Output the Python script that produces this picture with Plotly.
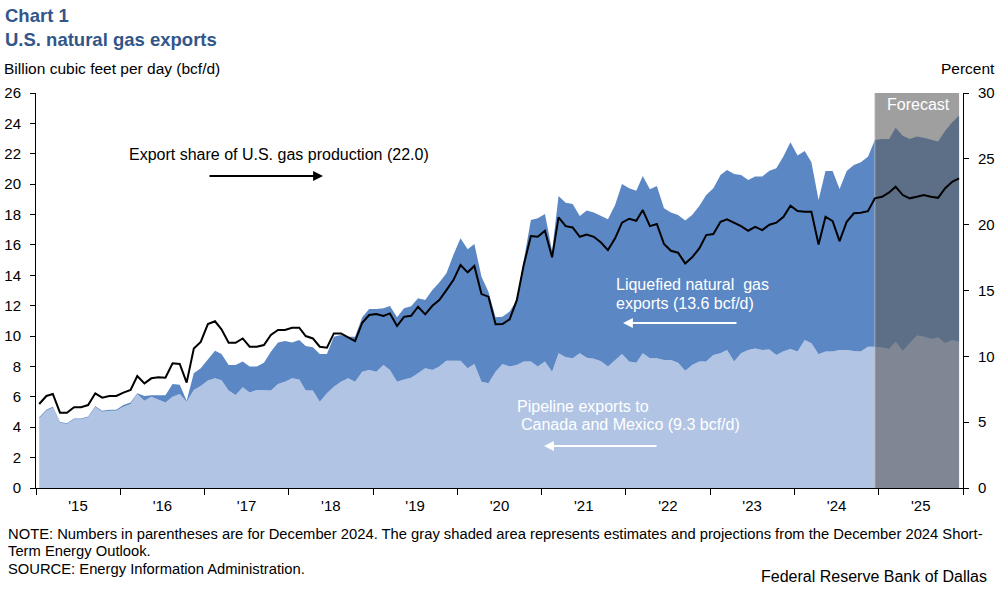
import plotly.graph_objects as go

# ---------------- data ----------------
YEAR_LABELS = ["'15", "'16", "'17", "'18", "'19", "'20", "'21", "'22", "'23", "'24", "'25"]
FIRST_YEAR = 2015

# Pipeline exports to Canada and Mexico, bcf/d (monthly, Jan 2015 - Dec 2025)
PIPELINE = [
    4.59, 5.09, 5.29, 4.30, 4.21, 4.52, 4.52, 4.65, 5.31, 5.02, 5.09, 5.09,
    5.35, 5.53, 6.19, 5.75, 6.01, 5.79, 5.62, 6.01, 6.19, 5.68, 6.45, 6.72,
    7.07, 7.22, 7.10, 6.41, 6.12, 6.63, 6.28, 6.45, 6.45, 6.41, 6.85, 7.00,
    7.22, 7.15, 6.41, 6.41, 5.68, 6.23, 6.67, 7.00, 7.22, 7.00, 7.66, 7.77,
    7.66, 8.10, 7.77, 7.00, 7.15, 7.25, 7.55, 7.88, 7.77, 7.99, 8.38, 8.38,
    8.38, 7.88, 8.16, 7.00, 6.89, 7.66, 8.16, 7.99, 8.10, 8.32, 8.32, 7.99,
    8.32, 7.66, 8.87, 8.60, 8.54, 8.87, 8.57, 8.50, 8.34, 7.99, 8.43, 8.82,
    8.32, 8.25, 8.87, 8.54, 8.54, 8.43, 8.43, 8.25, 7.72, 8.10, 8.32, 8.32,
    8.76, 8.87, 9.08, 8.32, 8.87, 9.08, 9.19, 9.08, 9.12, 8.75, 9.00, 9.15,
    8.98, 9.74, 9.52, 8.80, 8.98, 8.98, 9.09, 9.09, 9.02, 8.98, 9.30, 9.30,
    9.24, 9.15, 9.63, 9.02, 9.52, 10.03, 9.96, 9.81, 9.90, 9.52, 9.74, 9.63,
]

# Total exports (pipeline + LNG), bcf/d
TOTAL_EXPORTS = [
    4.66, 5.15, 5.35, 4.35, 4.26, 4.57, 4.57, 4.70, 5.38, 5.08, 5.15, 5.15,
    5.46, 5.62, 6.23, 6.06, 6.10, 6.10, 6.10, 6.85, 6.80, 5.75, 7.55, 7.88,
    8.43, 9.04, 8.82, 8.10, 8.10, 8.32, 7.99, 7.99, 8.25, 8.97, 9.57, 9.68,
    9.57, 9.74, 9.35, 9.26, 8.82, 8.82, 9.96, 10.07, 9.96, 9.96, 11.24, 11.78,
    11.78, 11.83, 11.98, 11.24, 11.83, 11.96, 12.49, 12.38, 13.03, 13.52, 14.13, 15.34,
    16.44, 15.71, 16.06, 13.91, 12.92, 11.24, 11.28, 11.61, 12.38, 15.01, 17.64, 17.75,
    18.04, 15.60, 19.22, 18.78, 18.70, 17.91, 18.26, 18.13, 17.91, 17.69, 18.63, 20.01,
    19.73, 19.57, 20.54, 19.66, 19.88, 18.41, 18.13, 17.97, 17.60, 17.97, 18.56, 19.29,
    19.73, 20.61, 20.93, 20.67, 20.61, 20.28, 20.50, 20.50, 20.88, 21.04, 21.83, 22.76,
    21.88, 22.19, 21.44, 18.96, 20.87, 20.87, 19.68, 20.87, 21.26, 21.44, 21.81, 22.91,
    22.98, 22.98, 23.72, 23.19, 22.98, 23.13, 23.06, 22.91, 22.80, 23.50, 24.07, 24.51,
]

# Export share of U.S. gas production, percent
EXPORT_SHARE = [
    6.38, 6.99, 7.14, 5.72, 5.72, 6.13, 6.13, 6.30, 7.19, 6.86, 6.99, 6.99,
    7.24, 7.44, 8.50, 7.95, 8.33, 8.41, 8.38, 9.47, 9.42, 8.00, 10.60, 11.10,
    12.45, 12.66, 12.05, 11.03, 11.03, 11.36, 10.73, 10.73, 10.86, 11.62, 12.00, 12.00,
    12.17, 12.17, 11.54, 11.36, 10.73, 10.66, 11.74, 11.74, 11.44, 11.16, 12.55, 13.14,
    13.21, 13.06, 13.26, 12.30, 13.00, 13.08, 13.77, 13.19, 13.84, 14.27, 15.03, 15.79,
    16.93, 16.38, 16.86, 14.73, 14.53, 12.43, 12.45, 12.81, 14.27, 16.93, 19.13, 19.08,
    19.54, 17.52, 20.55, 19.89, 19.79, 19.08, 19.25, 19.08, 18.64, 18.07, 18.96, 20.15,
    20.45, 20.30, 21.11, 19.89, 20.05, 18.53, 18.02, 17.87, 17.06, 17.52, 18.20, 19.21,
    19.29, 20.22, 20.40, 20.15, 19.89, 19.54, 19.84, 19.59, 20.00, 20.15, 20.60, 21.44,
    21.03, 20.98, 20.98, 18.50, 20.60, 20.27, 18.75, 20.22, 20.86, 20.90, 21.03, 22.00,
    22.12, 22.45, 22.88, 22.25, 22.00, 22.12, 22.25, 22.12, 22.04, 22.75, 23.26, 23.51,
]

N_MONTHS = len(PIPELINE)
DATES = [f"{FIRST_YEAR + i // 12}-{i % 12 + 1:02d}-15" for i in range(N_MONTHS)]
LAST_ACTUAL = "2024-12-15"          # December 2024 -> forecast starts after it
YEAR_STARTS = [f"{FIRST_YEAR + k}-01-01" for k in range(len(YEAR_LABELS) + 1)]
YEAR_MIDS = [f"{FIRST_YEAR + k}-07-02" for k in range(len(YEAR_LABELS))]

# ---------------- style ----------------
FONT = "Liberation Sans, Arial, sans-serif"
LIGHT = "#B1C4E4"
DARK = "#5B87C4"
TITLE_COLOR = "#32568A"
SHADE = "rgba(95,95,95,0.60)"

fig = go.Figure()

fig.add_trace(go.Scatter(
    x=DATES, y=PIPELINE, mode="lines", line=dict(width=0, color=LIGHT),
    fill="tozeroy", fillcolor=LIGHT, hoverinfo="skip", showlegend=False))
fig.add_trace(go.Scatter(
    x=DATES, y=TOTAL_EXPORTS, mode="lines", line=dict(width=0, color=DARK),
    fill="tonexty", fillcolor=DARK, hoverinfo="skip", showlegend=False))

# forecast shading (on the left-axis layer, below the share line)
fig.add_trace(go.Scatter(
    x=[LAST_ACTUAL, LAST_ACTUAL, DATES[-1], DATES[-1], LAST_ACTUAL],
    y=[0, 26, 26, 0, 0], mode="lines", line=dict(width=0),
    fill="toself", fillcolor=SHADE, hoverinfo="skip", showlegend=False))
fig.add_trace(go.Scatter(
    x=[LAST_ACTUAL, LAST_ACTUAL], y=[0, 26], mode="lines",
    line=dict(width=1, color="rgba(200,200,200,0.7)"),
    hoverinfo="skip", showlegend=False))

fig.add_trace(go.Scatter(
    x=DATES, y=EXPORT_SHARE, mode="lines", yaxis="y2",
    line=dict(color="black", width=2), hoverinfo="skip", showlegend=False))

fig.update_layout(
    width=997, height=589,
    margin=dict(l=36, r=34, t=93, b=101, pad=0, autoexpand=False),
    paper_bgcolor="white", plot_bgcolor="white",
    font=dict(family=FONT, size=15, color="black"),
    xaxis=dict(
        type="date", range=[YEAR_STARTS[0], YEAR_STARTS[-1]], automargin=False,
        tickmode="array", tickvals=YEAR_MIDS, ticktext=YEAR_LABELS,
        ticks="outside", ticklen=0, showgrid=False, zeroline=False,
        showline=True, linecolor="black", linewidth=1,
        tickfont=dict(size=15), ticklabelstandoff=4,
        minor=dict(tickmode="array", tickvals=YEAR_STARTS, ticks="outside",
                   ticklen=6, tickcolor="black", tickwidth=1, showgrid=False),
    ),
    yaxis=dict(
        range=[0, 26], dtick=2, tick0=0, ticks="outside", ticklen=5, automargin=False,
        tickcolor="black", showgrid=False, zeroline=False,
        showline=True, linecolor="black", linewidth=1,
        tickfont=dict(size=15), ticklabelstandoff=6,
    ),
    yaxis2=dict(
        range=[0, 30], dtick=5, tick0=0, overlaying="y", side="right", automargin=False,
        ticks="outside", ticklen=5, tickcolor="black", showgrid=False,
        zeroline=False, showline=True, linecolor="black", linewidth=1,
        tickfont=dict(size=15), ticklabelstandoff=6,
    ),
)

def px_x(px):
    return (px - 36) / 927.0

def px_y(py):
    return (488 - py) / 395.0

ann = []

def text(s, x, y, size=16, color="black", xanchor="left", bold=False):
    if bold:
        s = f"<b>{s}</b>"
    ann.append(dict(text=s, x=px_x(x), y=px_y(y), xref="paper", yref="paper",
                    xanchor=xanchor, yanchor="middle", showarrow=False,
                    font=dict(family=FONT, size=size, color=color)))

def arrow(x_head, x_tail, y, color):
    ann.append(dict(text="", x=px_x(x_head), y=px_y(y), xref="paper", yref="paper",
                    ax=x_tail - x_head, ay=0, axref="pixel", ayref="pixel",
                    showarrow=True, arrowhead=2, arrowsize=1.1, arrowwidth=1.8,
                    arrowcolor=color, standoff=0, startstandoff=0))

text("Chart 1", 3, 15, size=18.5, color=TITLE_COLOR, bold=True)
text("U.S. natural gas exports", 3, 40, size=18.5, color=TITLE_COLOR, bold=True)
text("Billion cubic feet per day (bcf/d)", 2, 68, size=15.5)
text("Percent", 997, 68, size=15.5, xanchor="right")

text("Export share of U.S. gas production (22.0)", 127, 155, size=16)
arrow(323, 208, 176, "black")

text("Liquefied natural  gas", 614, 284, size=16, color="white")
text("exports (13.6 bcf/d)", 614, 303, size=16, color="white")
arrow(623, 738, 323, "white")

text("Pipeline exports to", 515, 406, size=16, color="white")
text("Canada and Mexico (9.3 bcf/d)", 519, 424, size=16, color="white")
arrow(544, 658, 446, "white")

text("Forecast", 918, 104, size=16, color="white", xanchor="center")

text("NOTE: Numbers in parentheses are for December 2024. The gray shaded area represents estimates and projections from the December 2024 Short-",
     6, 534, size=14.75)
text("Term Energy Outlook.", 6, 551, size=14.75)
text("SOURCE: Energy Information Administration.", 6, 569, size=14.75)
text("Federal Reserve Bank of Dallas", 989, 576, size=16, xanchor="right")

fig.update_layout(annotations=ann)

fig.write_html(
    "out.html",
    config={"displayModeBar": False},
    post_script="document.body.style.margin='0px';document.body.style.overflow='hidden';",
)
